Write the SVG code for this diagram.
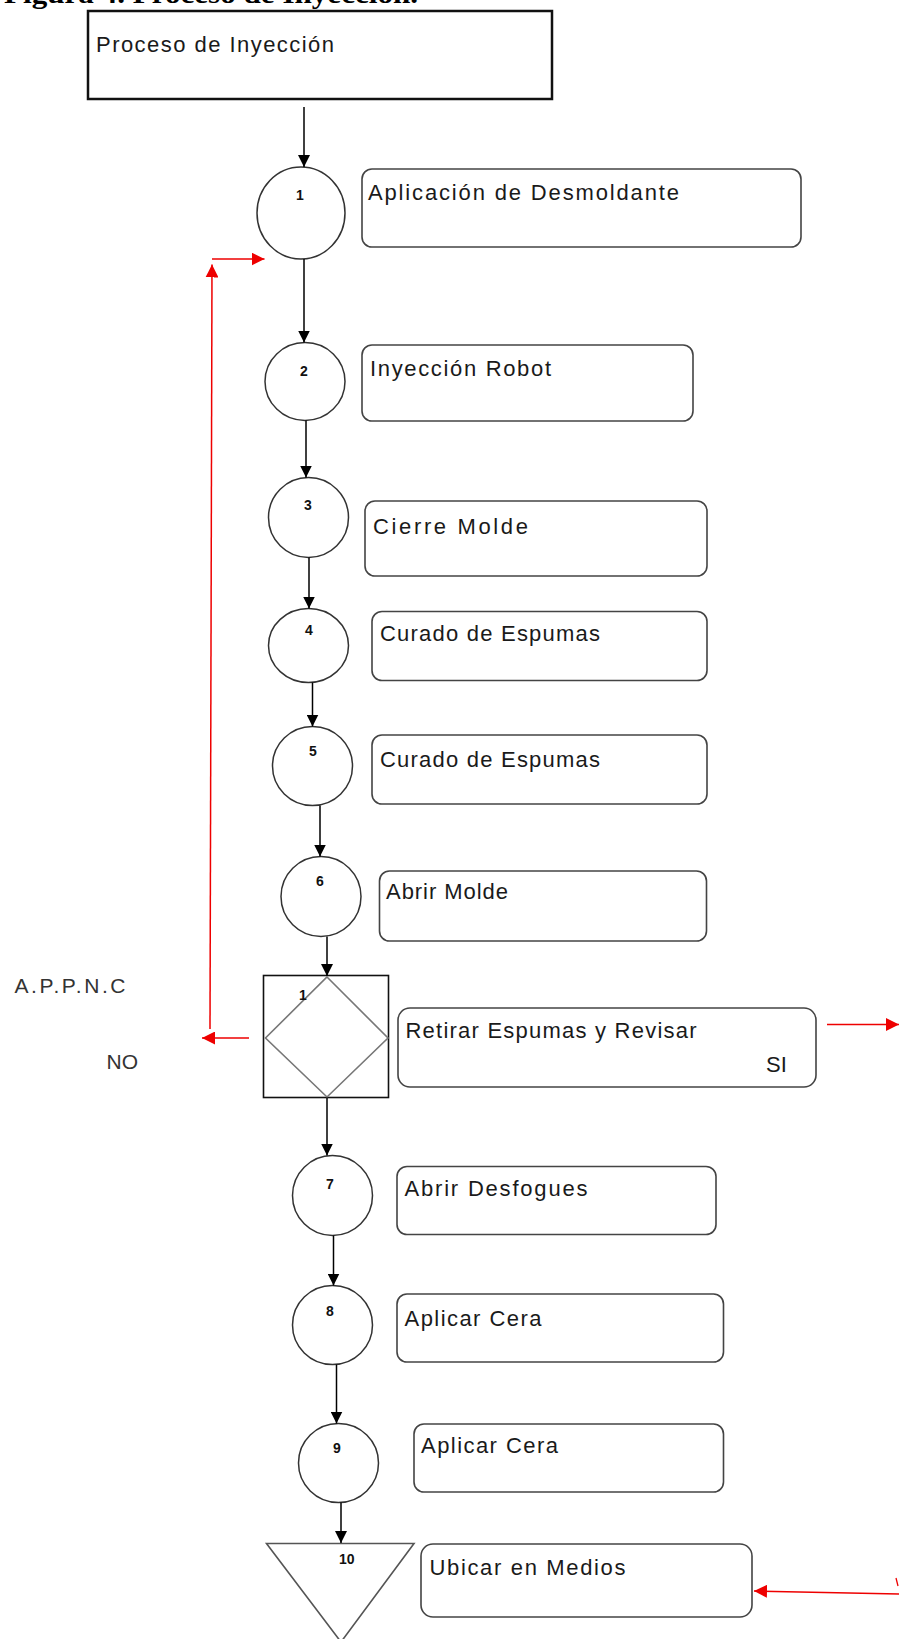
<svg xmlns="http://www.w3.org/2000/svg" width="899" height="1639" viewBox="0 0 899 1639">
<defs>
<marker id="ab" viewBox="0 0 10 10" refX="10" refY="5" markerWidth="12" markerHeight="12" markerUnits="userSpaceOnUse" orient="auto"><path d="M0,0 L10,5 L0,10 z" fill="#000"/></marker>
<marker id="ar" viewBox="0 0 10 10" refX="10" refY="5" markerWidth="13" markerHeight="13" markerUnits="userSpaceOnUse" orient="auto"><path d="M0,0 L10,5 L0,10 z" fill="#e00"/></marker>
<style>
.box{fill:#fff;stroke:#444;stroke-width:1.6}
.circ{fill:#fff;stroke:#333;stroke-width:1.5}
.t{font-family:"Liberation Sans",Arial,sans-serif;font-size:22px;fill:#1a1a1a}
.n{font-family:"Liberation Sans",Arial,sans-serif;font-size:14px;font-weight:bold;fill:#111}
.c{stroke:#000;stroke-width:1.5;fill:none;marker-end:url(#ab)}
.r{stroke:#e00;stroke-width:1.5;fill:none;marker-end:url(#ar)}
.lab{font-family:"Liberation Sans",Arial,sans-serif;font-size:21px;fill:#333}
</style>
</defs>
<rect width="899" height="1639" fill="#fff"/>
<text x="4" y="3" font-family="'Liberation Serif','Times New Roman',serif" font-size="28" font-weight="bold" textLength="414" lengthAdjust="spacingAndGlyphs" fill="#000">Figura 4. Proceso de Inyección.</text>

<g id="start">
<rect x="88" y="11" width="464" height="88" fill="#fff" stroke="#111" stroke-width="2.5"/>
<text class="t" x="96" y="52" textLength="238" lengthAdjust="spacing">Proceso de Inyección</text>
</g>

<g id="n1">
<ellipse class="circ" cx="301" cy="213" rx="44" ry="46"/>
<text class="n" x="296" y="200">1</text>
</g>
<g id="b1">
<rect class="box" x="362" y="169" width="439" height="78" rx="10"/>
<text class="t" x="368" y="200" textLength="311" lengthAdjust="spacing">Aplicación de Desmoldante</text>
</g>

<g id="n2">
<ellipse class="circ" cx="305" cy="381.5" rx="40" ry="39"/>
<text class="n" x="300" y="376">2</text>
</g>
<g id="b2">
<rect class="box" x="362" y="345" width="331" height="76" rx="10"/>
<text class="t" x="370" y="376" textLength="181" lengthAdjust="spacing">Inyección Robot</text>
</g>

<g id="n3">
<ellipse class="circ" cx="308.5" cy="517.5" rx="40" ry="40"/>
<text class="n" x="304" y="510">3</text>
</g>
<g id="b3">
<rect class="box" x="365" y="501" width="342" height="75" rx="10"/>
<text class="t" x="373" y="534" textLength="155" lengthAdjust="spacing">Cierre  Molde</text>
</g>

<g id="n4">
<ellipse class="circ" cx="308.5" cy="645.5" rx="40" ry="37"/>
<text class="n" x="305" y="635">4</text>
</g>
<g id="b4">
<rect class="box" x="372" y="611.5" width="335" height="69" rx="10"/>
<text class="t" x="380" y="641" textLength="220" lengthAdjust="spacing">Curado de Espumas</text>
</g>

<g id="n5">
<ellipse class="circ" cx="312.5" cy="766" rx="40" ry="39.5"/>
<text class="n" x="309" y="756">5</text>
</g>
<g id="b5">
<rect class="box" x="372" y="735" width="335" height="69" rx="10"/>
<text class="t" x="380" y="767" textLength="220" lengthAdjust="spacing">Curado de Espumas</text>
</g>

<g id="n6">
<ellipse class="circ" cx="321" cy="896.5" rx="40" ry="40"/>
<text class="n" x="316" y="886">6</text>
</g>
<g id="b6">
<rect class="box" x="379.5" y="871" width="327" height="70" rx="10"/>
<text class="t" x="386" y="899" font-size="17" textLength="122" lengthAdjust="spacing">Abrir Molde</text>
</g>

<g id="d1">
<rect x="263.5" y="975.5" width="125" height="122" fill="#fff" stroke="#111" stroke-width="1.6"/>
<polygon points="327,977 388,1038 327,1097 265.5,1038" fill="none" stroke="#777" stroke-width="1.6"/>
<text class="n" x="299" y="1000">1</text>
</g>
<g id="b7">
<rect class="box" x="398" y="1008" width="418" height="79" rx="12"/>
<text class="t" x="405.5" y="1038" textLength="291" lengthAdjust="spacing">Retirar Espumas y Revisar</text>
<text class="t" x="766" y="1072" font-size="20">SI</text>
</g>
<g id="labels">
<text class="lab" x="14.5" y="993" textLength="111" lengthAdjust="spacing">A.P.P.N.C</text>
<text class="lab" x="106.5" y="1069">NO</text>
</g>

<g id="n7">
<ellipse class="circ" cx="332.5" cy="1195.5" rx="40" ry="40"/>
<text class="n" x="326" y="1189">7</text>
</g>
<g id="b8">
<rect class="box" x="397" y="1166.5" width="319" height="68" rx="10"/>
<text class="t" x="404.5" y="1196" textLength="183" lengthAdjust="spacing">Abrir Desfogues</text>
</g>

<g id="n8">
<ellipse class="circ" cx="332.5" cy="1325" rx="40" ry="39.5"/>
<text class="n" x="326" y="1316">8</text>
</g>
<g id="b9">
<rect class="box" x="397" y="1294" width="326.5" height="68" rx="10"/>
<text class="t" x="404.5" y="1325.5" textLength="137" lengthAdjust="spacing">Aplicar Cera</text>
</g>

<g id="n9">
<ellipse class="circ" cx="338.5" cy="1463" rx="40" ry="39.5"/>
<text class="n" x="333" y="1453">9</text>
</g>
<g id="b10">
<rect class="box" x="414" y="1424" width="309.5" height="68" rx="10"/>
<text class="t" x="421" y="1453" textLength="137" lengthAdjust="spacing">Aplicar Cera</text>
</g>

<g id="n10">
<polygon points="266.5,1543.5 414,1543.5 341,1642" fill="#fff" stroke="#555" stroke-width="1.6"/>
<text class="n" x="339" y="1564">10</text>
</g>
<g id="b11">
<rect class="box" x="421" y="1544" width="331" height="73" rx="12"/>
<text class="t" x="429.5" y="1575" textLength="196" lengthAdjust="spacing">Ubicar en Medios</text>
</g>

<g id="connectors">
<line class="c" x1="304" y1="107" x2="304" y2="167"/>
<line class="c" x1="304" y1="259" x2="304" y2="342.5"/>
<line class="c" x1="306" y1="420.5" x2="306" y2="477.5"/>
<line class="c" x1="309" y1="557.5" x2="309" y2="608.5"/>
<line class="c" x1="312.5" y1="682.5" x2="312.5" y2="726.5"/>
<line class="c" x1="320" y1="805.5" x2="320" y2="856.5"/>
<line class="c" x1="327" y1="936.5" x2="327" y2="976"/>
<line class="c" x1="327" y1="1097.5" x2="327" y2="1155.5"/>
<line class="c" x1="333.5" y1="1235.5" x2="333.5" y2="1285.5"/>
<line class="c" x1="336.5" y1="1364.5" x2="336.5" y2="1423.5"/>
<line class="c" x1="341" y1="1502.5" x2="341" y2="1543"/>
<line class="r" x1="249" y1="1038" x2="202" y2="1038"/>
<line class="r" x1="210" y1="1029" x2="212" y2="264.5"/>
<line class="r" x1="212" y1="259" x2="264.5" y2="259"/>
<line class="r" x1="827" y1="1024.5" x2="899" y2="1024.5"/>
<line class="r" x1="899" y1="1594" x2="754" y2="1591"/>
<line x1="896" y1="1578" x2="898" y2="1586" stroke="#e00" stroke-width="1.3"/>
</g>
</svg>
